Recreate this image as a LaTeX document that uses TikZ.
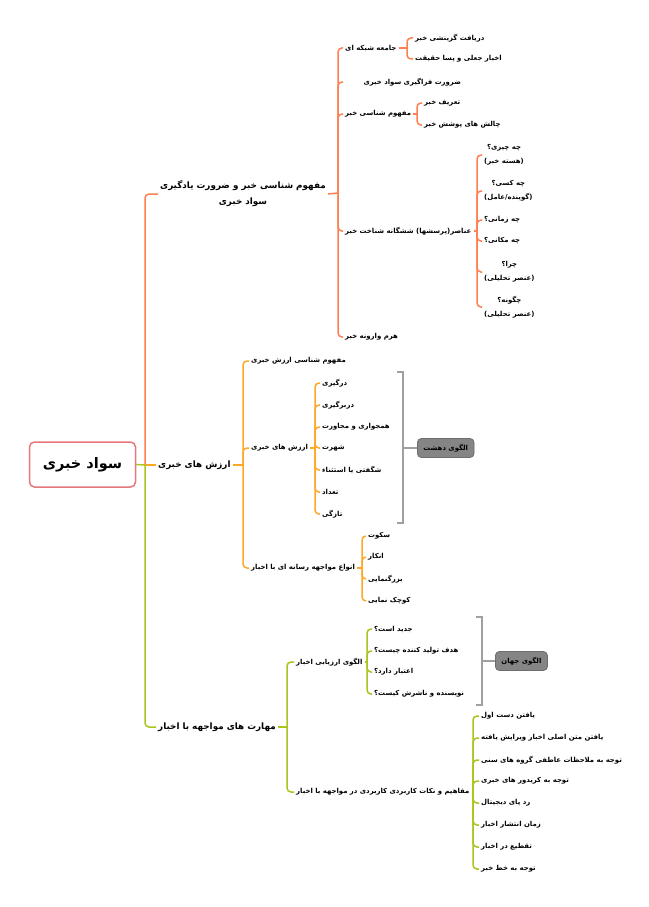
\documentclass[tikz,border=0pt]{standalone}
\usepackage{fontspec}
\newfontfamily\arabicfont[Script=Arabic]{DejaVu Sans}
\TeXXeTstate=1
\newcommand\fa[1]{\beginR #1\endR}
\definecolor{cone}{HTML}{FF7F50}
\definecolor{ctwo}{HTML}{FFA726}
\definecolor{cthree}{HTML}{ADC41E}
\definecolor{croot}{HTML}{E8777A}
\definecolor{cbrk}{HTML}{A0A0A0}
\definecolor{cboxf}{HTML}{858585}
\definecolor{cboxd}{HTML}{6E6E6E}
\tikzset{
  lf/.style={anchor=west, inner xsep=2pt, inner ysep=1pt, align=center,
    font=\arabicfont\bfseries\fontsize{6.9}{14}\selectfont},
  lone/.style={inner xsep=2pt, inner ysep=1pt, align=center,
    font=\arabicfont\bfseries\fontsize{8.8}{16}\selectfont},
  rootbox/.style={draw=croot, line width=1.5pt, rounded corners=5pt, fill=white,
    minimum width=106pt, minimum height=45pt,
    font=\arabicfont\bfseries\fontsize{14.5}{18}\selectfont},
  gbox/.style={draw=cboxd, fill=cboxf, line width=0.8pt, rounded corners=4pt,
    inner xsep=6pt, inner ysep=2pt, minimum height=19pt,
    font=\arabicfont\bfseries\fontsize{6.9}{9}\selectfont},
  bone/.style={draw=cone, line width=1.5pt, rounded corners=4pt},
  btwo/.style={draw=ctwo, line width=1.5pt, rounded corners=4pt},
  bthree/.style={draw=cthree, line width=1.5pt, rounded corners=4pt},
  brk/.style={draw=cbrk, line width=1.2pt},
}
\begin{document}
\begin{tikzpicture}[x=1pt,y=-1pt]
\useasboundingbox[fill=white] (0,0) rectangle (648,907);

% ---------- root ----------
\node[rootbox] (root) at (82.5,464.5) {\fa{سواد خبری}};
\coordinate (jr) at (145,465);

% ---------- level 1 ----------
\node[lone, anchor=center] (A) at (243,194) {\fa{مفهوم شناسی خبر و ضرورت یادگیری}\\\fa{سواد خبری}};
\node[lone, anchor=west] (B) at (156,465) {\fa{ارزش های خبری}};
\node[lone, anchor=west] (C) at (156,727) {\fa{مهارت های مواجهه با اخبار}};

% ---------- branch A ----------
\coordinate (jA) at (338,193);
\node[lf] (A1) at (343,48) {\fa{جامعه شبکه ای}};
\coordinate (jA1) at (407,48);
\node[lf] (A11) at (413,38) {\fa{دریافت گزینشی خبر}};
\node[lf] (A12) at (413,59) {\fa{اخبار جعلی و پسا حقیقت}};
\node[lf, minimum width=138pt] (A2) at (343,82) {\fa{ضرورت فراگیری سواد خبری}};
\node[lf] (A3) at (343,114) {\fa{مفهوم شناسی خبر}};
\coordinate (jA3) at (417,114);
\node[lf] (A31) at (422,103) {\fa{تعریف خبر}};
\node[lf] (A32) at (422,125) {\fa{چالش های پوشش خبر}};
\node[lf] (A4) at (343,231) {\fa{عناصر(پرسشها) ششگانه شناخت خبر}};
\coordinate (jA4) at (477,231);
\node[lf] (A41) at (482,155) {\fa{چه چیزی؟}\\\fa{(هسته خبر)}};
\node[lf] (A42) at (482,191) {\fa{چه کسی؟}\\\fa{(گوینده/عامل)}};
\node[lf] (A43) at (482,220) {\fa{چه زمانی؟}};
\node[lf] (A44) at (482,241) {\fa{چه مکانی؟}};
\node[lf] (A45) at (482,272) {\fa{چرا؟}\\\fa{(عنصر تحلیلی)}};
\node[lf] (A46) at (482,307) {\fa{چگونه؟}\\\fa{(عنصر تحلیلی)}};
\node[lf] (A5) at (343,337) {\fa{هرم وارونه خبر}};

% ---------- branch B ----------
\coordinate (jB) at (243,465);
\node[lf] (B1) at (249,361) {\fa{مفهوم شناسی ارزش خبری}};
\node[lf] (B2) at (249,448) {\fa{ارزش های خبری}};
\coordinate (jB2) at (315,448);
\node[lf] (B21) at (320,383) {\fa{درگیری}};
\node[lf] (B22) at (320,405) {\fa{دربرگیری}};
\node[lf] (B23) at (320,427) {\fa{همجواری و مجاورت}};
\node[lf] (B24) at (320,448) {\fa{شهرت}};
\node[lf] (B25) at (320,470) {\fa{شگفتی یا استثناء}};
\node[lf] (B26) at (320,492) {\fa{تعداد}};
\node[lf] (B27) at (320,514) {\fa{تازگی}};
\node[lf] (B3) at (249,568) {\fa{انواع مواجهه رسانه ای با اخبار}};
\coordinate (jB3) at (362,568);
\node[lf] (B31) at (366,536) {\fa{سکوت}};
\node[lf] (B32) at (366,557) {\fa{انکار}};
\node[lf] (B33) at (366,579) {\fa{بزرگنمایی}};
\node[lf] (B34) at (366,601) {\fa{کوچک نمایی}};
% bracket + summary box
\coordinate (kB1) at (397,372);
\coordinate (kB2) at (403,372);
\coordinate (kB3) at (403,523);
\coordinate (kB4) at (397,523);
\coordinate (kBm) at (403,448);
\node[gbox, anchor=west] (DB) at (417,448) {\fa{الگوی دهشت}};

% ---------- branch C ----------
\coordinate (jC) at (287,727);
\node[lf] (C1) at (294,662) {\fa{الگوی ارزیابی اخبار}};
\coordinate (jC1) at (367,662);
\node[lf] (C11) at (372,629) {\fa{جدید است؟}};
\node[lf] (C12) at (372,651) {\fa{هدف تولید کننده چیست؟}};
\node[lf] (C13) at (372,672) {\fa{اعتبار دارد؟}};
\node[lf] (C14) at (372,694) {\fa{نویسنده و ناشرش کیست؟}};
\coordinate (kC1) at (476,617);
\coordinate (kC2) at (482,617);
\coordinate (kC3) at (482,705);
\coordinate (kC4) at (476,705);
\coordinate (kCm) at (482,661);
\node[gbox, anchor=west] (DC) at (495,661) {\fa{الگوی جهان}};
\node[lf] (C2) at (294,792) {\fa{مفاهیم و نکات کاربردی کاربردی در مواجهه با اخبار}};
\coordinate (jC2) at (473,792);
\node[lf] (C21) at (479,716) {\fa{یافتن دست اول}};
\node[lf] (C22) at (479,738) {\fa{یافتن متن اصلی اخبار ویرایش یافته}};
\node[lf] (C23) at (479,760) {\fa{توجه به ملاحظات عاطفی گروه های سنی}};
\node[lf] (C24) at (479,781) {\fa{توجه به کریدور های خبری}};
\node[lf] (C25) at (479,803) {\fa{رد پای دیجیتال}};
\node[lf] (C26) at (479,825) {\fa{زمان انتشار اخبار}};
\node[lf] (C27) at (479,847) {\fa{تقطیع در اخبار}};
\node[lf] (C28) at (479,869) {\fa{توجه به خط خبر}};

% ---------- connectors ----------
% root level
\draw[bone] (jr) |- (A.west);
\draw[btwo] (jr) -- (B.west);
\draw[bthree] (jr) |- (C.west);
\draw[bthree] (root.east) -- (jr);

% branch A
\draw[bone] (A.east) -- (jA);
\foreach \n in {A1,A2,A3,A4,A5} \draw[bone] (jA) |- (\n.west);
\draw[bone] (A1.east) -- (jA1);
\foreach \n in {A11,A12} \draw[bone] (jA1) |- (\n.west);
\draw[bone] (A3.east) -- (jA3);
\foreach \n in {A31,A32} \draw[bone] (jA3) |- (\n.west);
\draw[bone] (A4.east) -- (jA4);
\foreach \n in {A41,A42,A43,A44,A45,A46} \draw[bone] (jA4) |- (\n.west);

% branch B
\draw[btwo] (B.east) -- (jB);
\foreach \n in {B1,B2,B3} \draw[btwo] (jB) |- (\n.west);
\draw[btwo] (B2.east) -- (jB2);
\foreach \n in {B21,B22,B23,B24,B25,B26,B27} \draw[btwo] (jB2) |- (\n.west);
\draw[btwo] (B3.east) -- (jB3);
\foreach \n in {B31,B32,B33,B34} \draw[btwo] (jB3) |- (\n.west);
\draw[brk] (kB1) -- (kB2) -- (kB3) -- (kB4);
\draw[brk] (kBm) -- (DB.west);

% branch C
\draw[bthree] (C.east) -- (jC);
\foreach \n in {C1,C2} \draw[bthree] (jC) |- (\n.west);
\draw[bthree] (C1.east) -- (jC1);
\foreach \n in {C11,C12,C13,C14} \draw[bthree] (jC1) |- (\n.west);
\draw[bthree] (C2.east) -- (jC2);
\foreach \n in {C21,C22,C23,C24,C25,C26,C27,C28} \draw[bthree] (jC2) |- (\n.west);
\draw[brk] (kC1) -- (kC2) -- (kC3) -- (kC4);
\draw[brk] (kCm) -- (DC.west);
\end{tikzpicture}
\end{document}
